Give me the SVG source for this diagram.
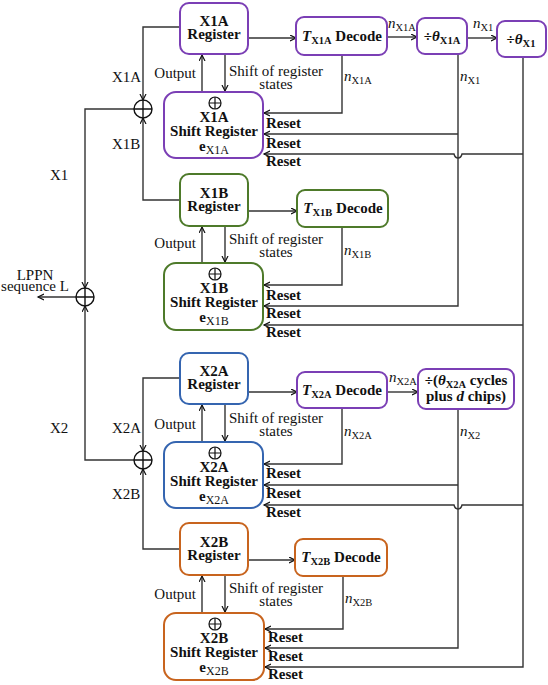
<svg xmlns="http://www.w3.org/2000/svg" width="548" height="685" viewBox="0 0 548 685" font-family="'Liberation Serif', 'Times New Roman', Times, serif">
<style>
text{font-family:'Liberation Serif','Times New Roman',Times,serif;fill:#111;}
.t{font-size:15px;font-weight:bold;}
.r{font-size:15px;}
.rs{font-size:15px;font-weight:bold;}
.sb{font-size:10.5px;}
.box{fill:#fff;stroke-width:2;}
.pu{stroke:#7B3FB5;}
.gr{stroke:#4E7A2A;}
.bl{stroke:#3565B0;}
.or{stroke:#C8641E;}
.c{fill:none;stroke:#333;stroke-width:1.4;}
.a{marker-end:url(#ah);}
.sum{fill:#fff;stroke:#111;stroke-width:1.4;}
</style>
<defs>
<marker id="ah" markerUnits="userSpaceOnUse" markerWidth="8" markerHeight="8" refX="6" refY="3.5" orient="auto">
<path d="M0,0.5 L6,3.5 L0,6.5" fill="none" stroke="#111" stroke-width="1.2"/>
</marker>
</defs>

<g id="connectors">
<path class="c a" d="M202,92 L202,55"/>
<path class="c a" d="M225,54 L225,91"/>
<path class="c a" d="M180,27 L143,27 L143,100"/>
<path class="c a" d="M248,38 L296,38"/>
<path class="c a" d="M387,37 L417,37"/>
<path class="c a" d="M467,38 L497,38"/>
<path class="c a" d="M342,55 L342,113 L264,113"/>
<path class="c a" d="M458,54 L458,306 L264,306"/>
<path class="c a" d="M458,134 L264,134"/>
<path class="c a" d="M523,57 L523,667 L265,667"/>
<path class="c a" d="M523,154 L462,154 Q461,158 458,158 Q455,158 454,154 L264,154"/>
<path class="c a" d="M523,325 L264,325"/>
<path class="c a" d="M523,505 L462,505 Q461,509 458,509 Q455,509 454,505 L264,505"/>
<path class="c a" d="M202,263 L202,227"/>
<path class="c a" d="M225,226 L225,262"/>
<path class="c a" d="M180,200 L143,200 L143,118"/>
<path class="c a" d="M248,211 L297,211"/>
<path class="c a" d="M342,227 L342,285 L264,285"/>
<path class="c a" d="M134,109 L85,109 L85,288"/>
<path class="c a" d="M134,460 L85,460 L85,306"/>
<path class="c a" d="M76,297 L38,297"/>
<path class="c a" d="M202,442 L202,405"/>
<path class="c a" d="M225,404 L225,441"/>
<path class="c a" d="M180,378 L143,378 L143,451"/>
<path class="c a" d="M248,392 L297,392"/>
<path class="c a" d="M387,392 L418,392"/>
<path class="c a" d="M342,408 L342,464 L264,464"/>
<path class="c a" d="M458,409 L458,648 L265,648"/>
<path class="c a" d="M458,485 L264,485"/>
<path class="c a" d="M202,613 L202,576"/>
<path class="c a" d="M225,575 L225,612"/>
<path class="c a" d="M180,549 L143,549 L143,469"/>
<path class="c a" d="M248,560 L295,560"/>
<path class="c a" d="M343,576 L343,629 L265,629"/>
</g>

<g id="sum-x1">
<circle class="sum" cx="143" cy="109" r="9"/>
<path d="M134,109 H152 M143,100 V118" stroke="#111" stroke-width="1.4"/>
</g>
<g id="sum-x2">
<circle class="sum" cx="143" cy="460" r="9"/>
<path d="M134,460 H152 M143,451 V469" stroke="#111" stroke-width="1.4"/>
</g>
<g id="sum-lppn">
<circle class="sum" cx="85" cy="297" r="9"/>
<path d="M76,297 H94 M85,288 V306" stroke="#111" stroke-width="1.4"/>
</g>

<g id="labels">
<text class="r" x="112" y="82">X1A</text>
<text class="r" x="112" y="149">X1B</text>
<text class="r" x="50" y="180">X1</text>
<text class="r" x="50" y="433">X2</text>
<text class="r" x="112" y="433">X2A</text>
<text class="r" x="112" y="499">X2B</text>
<text class="r" text-anchor="middle"><tspan x="35" y="280">LPPN</tspan><tspan x="35" y="291">sequence L</tspan></text>
<text class="r" x="196" y="78" text-anchor="end">Output</text>
<text class="r" text-anchor="middle"><tspan x="276" y="76">Shift of register</tspan><tspan x="276" y="89">states</tspan></text>
<text class="r" x="196" y="248" text-anchor="end">Output</text>
<text class="r" text-anchor="middle"><tspan x="276" y="244">Shift of register</tspan><tspan x="276" y="257">states</tspan></text>
<text class="r" x="196" y="429" text-anchor="end">Output</text>
<text class="r" text-anchor="middle"><tspan x="276" y="423">Shift of register</tspan><tspan x="276" y="436">states</tspan></text>
<text class="r" x="196" y="599" text-anchor="end">Output</text>
<text class="r" text-anchor="middle"><tspan x="276" y="593">Shift of register</tspan><tspan x="276" y="606">states</tspan></text>
<text class="r" x="388" y="28"><tspan font-style="italic">n</tspan><tspan class="sb" dy="3">X1A</tspan></text>
<text class="r" x="473" y="28"><tspan font-style="italic">n</tspan><tspan class="sb" dy="3">X1</tspan></text>
<text class="r" x="344" y="81"><tspan font-style="italic">n</tspan><tspan class="sb" dy="3">X1A</tspan></text>
<text class="r" x="460" y="81"><tspan font-style="italic">n</tspan><tspan class="sb" dy="3">X1</tspan></text>
<text class="r" x="344" y="255"><tspan font-style="italic">n</tspan><tspan class="sb" dy="3">X1B</tspan></text>
<text class="r" x="389" y="382"><tspan font-style="italic">n</tspan><tspan class="sb" dy="3">X2A</tspan></text>
<text class="r" x="344" y="436"><tspan font-style="italic">n</tspan><tspan class="sb" dy="3">X2A</tspan></text>
<text class="r" x="460" y="436"><tspan font-style="italic">n</tspan><tspan class="sb" dy="3">X2</tspan></text>
<text class="r" x="345" y="603"><tspan font-style="italic">n</tspan><tspan class="sb" dy="3">X2B</tspan></text>
<text class="rs"><tspan x="266" y="128">Reset</tspan><tspan x="266" y="148">Reset</tspan><tspan x="266" y="166">Reset</tspan></text>
<text class="rs"><tspan x="266" y="300">Reset</tspan><tspan x="266" y="318">Reset</tspan><tspan x="266" y="337">Reset</tspan></text>
<text class="rs"><tspan x="266" y="478">Reset</tspan><tspan x="266" y="498">Reset</tspan><tspan x="266" y="517">Reset</tspan></text>
<text class="rs"><tspan x="268" y="642">Reset</tspan><tspan x="268" y="661">Reset</tspan><tspan x="268" y="679">Reset</tspan></text>
</g>

<g id="x1a-register">
<rect class="box pu" x="180" y="3" width="68" height="51" rx="9"/>
<text class="t" text-anchor="middle"><tspan x="214" y="26">X1A</tspan><tspan x="214" y="39">Register</tspan></text>
</g>
<g id="x1a-shift">
<rect class="box pu" x="164" y="92" width="99" height="66" rx="12"/>
<circle cx="215" cy="103" r="6" fill="none" stroke="#111" stroke-width="1.2"/>
<path d="M209,103 H221 M215,97 V109" stroke="#111" stroke-width="1.2"/>
<text class="t" text-anchor="middle"><tspan x="214" y="122">X1A</tspan><tspan x="214" y="136">Shift Register</tspan><tspan x="214" y="151">e</tspan><tspan font-weight="normal" font-size="12" dy="3">X1A</tspan></text>
</g>
<g id="x1a-decode">
<rect class="box pu" x="296" y="17" width="91" height="38" rx="8"/>
<text class="t" x="342" y="41" text-anchor="middle"><tspan font-style="italic">T</tspan><tspan font-size="10.5" dy="3">X1A</tspan><tspan dy="-3"> Decode</tspan></text>
</g>
<g id="div-theta-x1a">
<rect class="box pu" x="417" y="18" width="50" height="36" rx="8"/>
<text class="t" x="442" y="41" text-anchor="middle">÷<tspan font-style="italic">θ</tspan><tspan font-size="10.5" dy="3">X1A</tspan></text>
</g>
<g id="div-theta-x1">
<rect class="box pu" x="497" y="21" width="49" height="36" rx="8"/>
<text class="t" x="521" y="44" text-anchor="middle">÷<tspan font-style="italic">θ</tspan><tspan font-size="10.5" dy="3">X1</tspan></text>
</g>

<g id="x1b-register">
<rect class="box gr" x="180" y="174" width="68" height="52" rx="9"/>
<text class="t" text-anchor="middle"><tspan x="214" y="198">X1B</tspan><tspan x="214" y="211">Register</tspan></text>
</g>
<g id="x1b-shift">
<rect class="box gr" x="164" y="263" width="99" height="67" rx="12"/>
<circle cx="215" cy="274" r="6" fill="none" stroke="#111" stroke-width="1.2"/>
<path d="M209,274 H221 M215,268 V280" stroke="#111" stroke-width="1.2"/>
<text class="t" text-anchor="middle"><tspan x="214" y="293">X1B</tspan><tspan x="214" y="307">Shift Register</tspan><tspan x="214" y="322">e</tspan><tspan font-weight="normal" font-size="12" dy="3">X1B</tspan></text>
</g>
<g id="x1b-decode">
<rect class="box gr" x="297" y="190" width="91" height="37" rx="8"/>
<text class="t" x="343" y="213" text-anchor="middle"><tspan font-style="italic">T</tspan><tspan font-size="10.5" dy="3">X1B</tspan><tspan dy="-3"> Decode</tspan></text>
</g>

<g id="x2a-register">
<rect class="box bl" x="180" y="353" width="68" height="51" rx="9"/>
<text class="t" text-anchor="middle"><tspan x="214" y="376">X2A</tspan><tspan x="214" y="389">Register</tspan></text>
</g>
<g id="x2a-shift">
<rect class="box bl" x="164" y="442" width="99" height="66" rx="12"/>
<circle cx="215" cy="453" r="6" fill="none" stroke="#111" stroke-width="1.2"/>
<path d="M209,453 H221 M215,447 V459" stroke="#111" stroke-width="1.2"/>
<text class="t" text-anchor="middle"><tspan x="214" y="472">X2A</tspan><tspan x="214" y="486">Shift Register</tspan><tspan x="214" y="501">e</tspan><tspan font-weight="normal" font-size="12" dy="3">X2A</tspan></text>
</g>
<g id="x2a-decode">
<rect class="box pu" x="297" y="372" width="90" height="36" rx="8"/>
<text class="t" x="342" y="395" text-anchor="middle"><tspan font-style="italic">T</tspan><tspan font-size="10.5" dy="3">X2A</tspan><tspan dy="-3"> Decode</tspan></text>
</g>
<g id="div-theta-x2a">
<rect class="box pu" x="418" y="369" width="96" height="40" rx="8"/>
<text class="t" text-anchor="middle"><tspan x="466" y="385">÷(</tspan><tspan font-style="italic">θ</tspan><tspan font-size="10.5" dy="3">X2A</tspan><tspan dy="-3"> cycles</tspan><tspan x="466" y="401">plus </tspan><tspan font-style="italic">d</tspan><tspan> chips)</tspan></text>
</g>

<g id="x2b-register">
<rect class="box or" x="180" y="523" width="68" height="52" rx="9"/>
<text class="t" text-anchor="middle"><tspan x="214" y="547">X2B</tspan><tspan x="214" y="560">Register</tspan></text>
</g>
<g id="x2b-shift">
<rect class="box or" x="164" y="613" width="100" height="67" rx="12"/>
<circle cx="215" cy="624" r="6" fill="none" stroke="#111" stroke-width="1.2"/>
<path d="M209,624 H221 M215,618 V630" stroke="#111" stroke-width="1.2"/>
<text class="t" text-anchor="middle"><tspan x="214" y="643">X2B</tspan><tspan x="214" y="657">Shift Register</tspan><tspan x="214" y="672">e</tspan><tspan font-weight="normal" font-size="12" dy="3">X2B</tspan></text>
</g>
<g id="x2b-decode">
<rect class="box or" x="295" y="539" width="92" height="37" rx="8"/>
<text class="t" x="341" y="562" text-anchor="middle"><tspan font-style="italic">T</tspan><tspan font-size="10.5" dy="3">X2B</tspan><tspan dy="-3"> Decode</tspan></text>
</g>
</svg>
